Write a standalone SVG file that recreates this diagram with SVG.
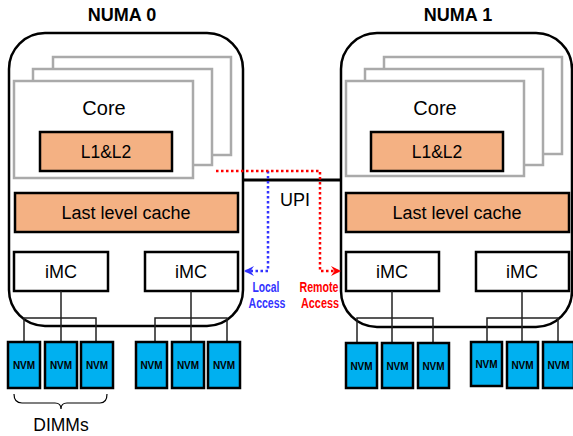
<svg xmlns="http://www.w3.org/2000/svg" width="573" height="436" viewBox="0 0 573 436">
  <style>
    .numa { fill: #fff; stroke: #000; stroke-width: 2.5; }
    .core { fill: #fff; stroke: #aaaaaa; stroke-width: 2.5; }
    .cache { fill: #f4b183; stroke: #000; stroke-width: 2.5; }
    .imc { fill: #fff; stroke: #000; stroke-width: 2.5; }
    .nvm { fill: #00b0f0; stroke: #000; stroke-width: 2.5; }
    .bus { fill: none; stroke: #222; stroke-width: 1.5; }
    .t { font-family: "Liberation Sans", Arial, sans-serif; fill: #000; text-anchor: middle; }
    .title { font-size: 18px; font-weight: bold; }
    .core-t { font-size: 20px; }
    .imc-t { font-size: 18px; }
    .mid { font-size: 17.5px; }
    .llc-t { font-size: 18px; }
    .nv { font-size: 10px; font-weight: bold; }
    .acc { font-size: 14px; font-weight: bold; }
    .blue { fill: #3333ff; }
    .red { fill: #ff0000; }
  </style>
  <defs>
    <marker id="arrBlue" viewBox="0 0 10 10" refX="9" refY="5" markerWidth="11" markerHeight="10" orient="auto" markerUnits="userSpaceOnUse">
      <path d="M0,0 L10,5 L0,10 L3.5,5 Z" fill="#3333ff"/>
    </marker>
    <marker id="arrRed" viewBox="0 0 10 10" refX="9" refY="5" markerWidth="11" markerHeight="10" orient="auto" markerUnits="userSpaceOnUse">
      <path d="M0,0 L10,5 L0,10 L3.5,5 Z" fill="#ff0000"/>
    </marker>
  </defs>

  <!-- NUMA 0 socket -->
  <g id="numa0">
    <text class="t title" x="122" y="21">NUMA 0</text>
    <rect class="numa" x="9" y="33" width="234" height="293" rx="36"/>
    <rect class="core" x="53" y="57" width="178" height="98"/>
    <rect class="core" x="33" y="69" width="179" height="96"/>
    <rect class="core" x="14" y="81" width="179" height="97"/>
    <text class="t core-t" x="104" y="115">Core</text>
    <g id="numa0-l1l2">
      <rect class="cache" x="40" y="132" width="132" height="39"/>
      <text class="t mid" x="106" y="158">L1&amp;L2</text>
    </g>
    <g id="numa0-llc">
      <rect class="cache" x="15" y="193" width="223" height="39"/>
      <text class="t llc-t" x="126" y="219">Last level cache</text>
    </g>
    <g id="numa0-imc0">
      <rect class="imc" x="14" y="252" width="94" height="39"/>
      <text class="t imc-t" x="61" y="278">iMC</text>
    </g>
    <g id="numa0-imc1">
      <rect class="imc" x="145" y="252" width="93" height="39"/>
      <text class="t imc-t" x="191" y="278">iMC</text>
    </g>
  </g>

  <!-- NUMA 1 socket -->
  <g id="numa1">
    <text class="t title" x="458" y="21">NUMA 1</text>
    <rect class="numa" x="341" y="33" width="231" height="294" rx="36"/>
    <rect class="core" x="384" y="57" width="178" height="97"/>
    <rect class="core" x="365" y="69" width="178" height="96"/>
    <rect class="core" x="346" y="81" width="178" height="95"/>
    <text class="t core-t" x="435" y="115">Core</text>
    <g id="numa1-l1l2">
      <rect class="cache" x="371" y="132" width="132" height="39"/>
      <text class="t mid" x="437" y="158">L1&amp;L2</text>
    </g>
    <g id="numa1-llc">
      <rect class="cache" x="346" y="193" width="223" height="39"/>
      <text class="t llc-t" x="457" y="219">Last level cache</text>
    </g>
    <g id="numa1-imc0">
      <rect class="imc" x="346" y="252" width="93" height="39"/>
      <text class="t imc-t" x="392" y="278">iMC</text>
    </g>
    <g id="numa1-imc1">
      <rect class="imc" x="476" y="252" width="93" height="39"/>
      <text class="t imc-t" x="522" y="278">iMC</text>
    </g>
  </g>

  <!-- memory channels and UPI link -->
  <g id="connectors">
    <path class="bus" d="M61,291 V342 M24,342 V318 H96 V342"/>
    <path class="bus" d="M191,291 V342 M155,342 V318 H227 V342"/>
    <path class="bus" d="M392,291 V343 M357,343 V318 H433 V343"/>
    <path class="bus" d="M522,291 V342 M487,342 V318 H558 V342"/>
    <line x1="243" y1="180" x2="341" y2="180" stroke="#000" stroke-width="3"/>
    <path d="M268,171 V271 H245" fill="none" stroke="#3333ff" stroke-width="2.5" stroke-dasharray="2.5 2.5" marker-end="url(#arrBlue)"/>
    <path d="M216,171 H320 V271 H340" fill="none" stroke="#ff0000" stroke-width="2.5" stroke-dasharray="2.5 2.5" marker-end="url(#arrRed)"/>
    <path d="M14,394 Q14,403 22,403 H55 Q61,403 61,409 Q61,403 67,403 H100 Q107,403 107,394" fill="none" stroke="#000" stroke-width="1.2"/>
  </g>

  <g id="link-labels">
    <text class="t imc-t" x="295" y="206">UPI</text>
    <text class="t acc blue" x="266" y="292" textLength="27" lengthAdjust="spacingAndGlyphs">Local</text>
    <text class="t acc blue" x="267" y="308" textLength="37" lengthAdjust="spacingAndGlyphs">Access</text>
    <text class="t acc red" x="319" y="292" textLength="39" lengthAdjust="spacingAndGlyphs">Remote</text>
    <text class="t acc red" x="320" y="308" textLength="38" lengthAdjust="spacingAndGlyphs">Access</text>
    <text class="t mid" x="61" y="431">DIMMs</text>
  </g>

  <!-- NVM DIMMs -->
  <g id="nvm0-0"><rect class="nvm" x="8" y="342" width="32" height="46"/><text class="t nv" x="24" y="369">NVM</text></g>
  <g id="nvm0-1"><rect class="nvm" x="45" y="342" width="32" height="46"/><text class="t nv" x="61" y="369">NVM</text></g>
  <g id="nvm0-2"><rect class="nvm" x="81" y="342" width="32" height="46"/><text class="t nv" x="97" y="369">NVM</text></g>
  <g id="nvm0-3"><rect class="nvm" x="136" y="342" width="31" height="46"/><text class="t nv" x="151.5" y="369">NVM</text></g>
  <g id="nvm0-4"><rect class="nvm" x="172" y="342" width="32" height="46"/><text class="t nv" x="188" y="369">NVM</text></g>
  <g id="nvm0-5"><rect class="nvm" x="208" y="342" width="32" height="46"/><text class="t nv" x="224" y="369">NVM</text></g>
  <g id="nvm1-0"><rect class="nvm" x="346" y="343" width="31" height="45"/><text class="t nv" x="361.5" y="370">NVM</text></g>
  <g id="nvm1-1"><rect class="nvm" x="382" y="343" width="31" height="45"/><text class="t nv" x="397.5" y="370">NVM</text></g>
  <g id="nvm1-2"><rect class="nvm" x="418" y="343" width="31" height="45"/><text class="t nv" x="433.5" y="370">NVM</text></g>
  <g id="nvm1-3"><rect class="nvm" x="471" y="342" width="31" height="44"/><text class="t nv" x="486.5" y="368">NVM</text></g>
  <g id="nvm1-4"><rect class="nvm" x="507" y="342" width="31" height="46"/><text class="t nv" x="522.5" y="369">NVM</text></g>
  <g id="nvm1-5"><rect class="nvm" x="543" y="342" width="31" height="46"/><text class="t nv" x="558.5" y="369">NVM</text></g>
</svg>
